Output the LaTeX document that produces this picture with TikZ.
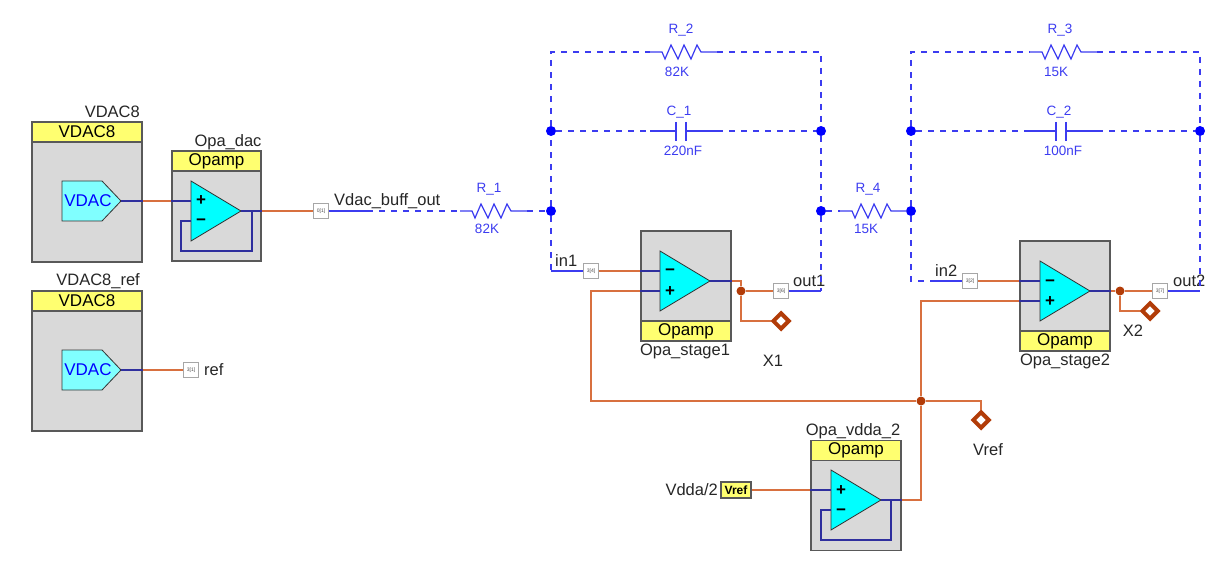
\documentclass[tikz,border=0pt]{standalone}
\usepackage{fontspec}
\setmainfont{Liberation Sans}
\usetikzlibrary{shapes.geometric}
\definecolor{wirered}{HTML}{D8703F}
\definecolor{wireblue}{HTML}{2F2F9E}
\definecolor{netblue}{HTML}{3C3CF0}
\definecolor{headyellow}{HTML}{FFFF70}
\definecolor{blockgray}{HTML}{D9D9D9}
\definecolor{probecol}{HTML}{B23C08}
\definecolor{opacyan}{HTML}{00FFFF}
\definecolor{dacyan}{HTML}{80FFFF}
\tikzstyle{block}=[rectangle, draw=black!65, line width=1.1pt, fill=blockgray, inner sep=0pt, minimum width=110pt]
\tikzstyle{opablock}=[block, minimum width=90pt, minimum height=110pt]
\tikzstyle{vdacblock}=[block, minimum height=140pt]
\tikzstyle{head}=[rectangle, draw=black!65, line width=1.1pt, fill=headyellow, inner sep=0pt, minimum height=20pt, font=\fontsize{17}{19}\selectfont]
\tikzstyle{pintag}=[rectangle, draw=black!35, line width=1pt, fill=white, inner sep=0pt, minimum size=15pt, text=black!70, font=\fontsize{5}{5}\selectfont]
\tikzstyle{lbl}=[inner sep=0pt, text=black!85, font=\fontsize{16.5}{19}\selectfont]
\tikzstyle{val}=[inner sep=0pt, text=netblue, font=\fontsize{13.5}{15}\selectfont]
\tikzstyle{opsign}=[inner sep=0pt, text height=10pt, text depth=0pt, font=\fontsize{17}{17}\selectfont\bfseries]
\tikzstyle{bdot}=[circle, fill=blue, inner sep=0pt, minimum size=10pt]
\tikzstyle{rdot}=[circle, fill=probecol, inner sep=0pt, minimum size=9pt]
\tikzstyle{probe}=[diamond, draw=probecol, line width=4pt, fill=white, inner sep=0pt, minimum size=17pt]
\tikzstyle{wred}=[draw=wirered, line width=1.2pt]
\tikzstyle{wnavy}=[draw=wireblue, line width=1.2pt]
\tikzstyle{wnet}=[draw=netblue, line width=1.2pt]
\tikzstyle{dsh}=[wnet, dash pattern=on 6pt off 6pt]
\newcommand{\opasym}[5]{
\draw[black!80, fill=opacyan, line width=.8pt] (#2,#3-30)--(#2+50,#3)--(#2,#3+30)--cycle;
\coordinate (#1top) at (#2,#3-10);
\coordinate (#1bot) at (#2,#3+10);
\coordinate (#1out) at (#2+50,#3);
\node[opsign] at (#2+10,#3-10){#4};
\node[opsign] at (#2+10,#3+10){#5};
}
\newcommand{\vdacsym}[3]{
\draw[black!80, fill=dacyan, line width=.8pt] (#2,#3-20)--(#2+40,#3-20)--(#2+59,#3)--(#2+40,#3+20)--(#2,#3+20)--cycle;
\coordinate (#1out) at (#2+59,#3);
\node[text=blue, inner sep=0pt, font=\fontsize{17}{19}\selectfont] at (#2+26,#3){VDAC};
}
\newcommand{\resist}[3]{
\coordinate (#1l) at (#2-12,#3);
\coordinate (#1r) at (#2+55,#3);
\draw[wnet] (#1l)--(#2,#3)--++(3,7)--++(6,-14)--++(7,14)--++(6,-14)--++(7,14)--++(6,-14)--++(4,7)--(#1r);
}
\newcommand{\capac}[3]{
\coordinate (#1l) at (#2-26,#3);
\coordinate (#1r) at (#2+41,#3);
\draw[wnet] (#1l)--(#2,#3)(#2,#3-9)--(#2,#3+10)(#2+10,#3-9)--(#2+10,#3+10)(#2+10,#3)--(#1r);
}
\begin{document}
\begin{tikzpicture}[x=1pt,y=-1pt]
\useasboundingbox (0,0) rectangle (1228,577);
% components on the left
\node[vdacblock] (dac) at (87,192){};
\node[head, minimum width=110pt] (dachead) at (87,132){VDAC8};
\node[lbl, anchor=east] (dacname) at (140,112){VDAC8};
\vdacsym{dacs}{62}{201}
\node[vdacblock] (ref) at (87,361){};
\node[head, minimum width=110pt] (refhead) at (87,301){VDAC8};
\node[lbl, anchor=east] (refname) at (140,281){VDAC8\_ref};
\vdacsym{refs}{62}{370}
\node[block, minimum width=89pt, minimum height=110pt] (opd) at (216.5,206){};
\node[head, minimum width=89pt] (opdhead) at (216.5,161){Opamp};
\node[lbl] (opdname) at (228,142){Opa\_dac};
\opasym{opds}{191}{211}{+}{−}
% stage 1
\node[opablock] (st1) at (686,286){};
\node[head, minimum width=90pt] (st1head) at (686,331){Opamp};
\node[lbl] (st1name) at (685,351){Opa\_stage1};
\opasym{st1s}{660}{281}{−}{+}
% stage 2
\node[opablock] (st2) at (1065,296){};
\node[head, minimum width=90pt] (st2head) at (1065,341){Opamp};
\node[lbl] (st2name) at (1065,361){Opa\_stage2};
\opasym{st2s}{1040}{291}{−}{+}
% vdda buffer
\node[opablock] (opv) at (856,495.5){};
\node[head, minimum width=90pt] (opvhead) at (856,450.5){Opamp};
\node[lbl] (opvname) at (853,431){Opa\_vdda\_2};
\opasym{opvs}{831}{500}{+}{−}
% tags
\node[pintag] (tdac) at (321,211){0[1]};
\node[pintag] (tref) at (191,370){3[1]};
\node[pintag] (tin1) at (591,271){3[4]};
\node[pintag] (tout1) at (781,291){3[6]};
\node[pintag] (tin2) at (970,281){3[2]};
\node[pintag] (tout2) at (1160,291){3[7]};
\node[head, minimum width=30pt, minimum height=16pt, font=\fontsize{12}{13}\selectfont\bfseries] (vrefpin) at (736,490){Vref};
\node[lbl, anchor=east] (vddaname) at (718,490){Vdda/2};
\node[lbl, anchor=west] (refnet) at (204,370){ref};
\node[lbl, anchor=west] (dacnet) at (334,201){Vdac\_buff\_out};
\node[lbl, anchor=west] (in1net) at (555,261){in1};
\node[lbl, anchor=west] (out1net) at (793,281){out1};
\node[lbl, anchor=west] (in2net) at (935,271){in2};
\node[lbl, anchor=west] (out2net) at (1173,281){out2};
% junctions
\node[bdot] (a1) at (551,131){};
\node[bdot] (b1) at (821,131){};
\node[bdot] (a2) at (911,131){};
\node[bdot] (b2) at (1200,131){};
\node[bdot] (m1) at (551,211){};
\node[bdot] (m2) at (821,211){};
\node[bdot] (m3) at (911,211){};
\node[rdot] (j1) at (741,291){};
\node[rdot] (j2) at (1120,291){};
\node[rdot] (j3) at (921,401){};
\node[probe] (x1) at (781,321){};
\node[probe] (x2) at (1150,311){};
\node[probe] (vr) at (981,420){};
\node[lbl] (x1name) at (773,361){X1};
\node[lbl] (x2name) at (1133,331){X2};
\node[lbl] (vrname) at (988,450){Vref};
% passives
\resist{r1}{472}{211}
\resist{r2}{662}{52}
\resist{r3}{1042}{52}
\resist{r4}{852}{211}
\capac{c1}{676}{131}
\capac{c2}{1056}{131}
\node[val] (r1n) at (489,189){R\_1};
\node[val] (r1v) at (487,229){82K};
\node[val] (r2n) at (681,30){R\_2};
\node[val] (r2v) at (677,72){82K};
\node[val] (r3n) at (1060,30){R\_3};
\node[val] (r3v) at (1056,72){15K};
\node[val] (r4n) at (868,189){R\_4};
\node[val] (r4v) at (866,229){15K};
\node[val] (c1n) at (679,112){C\_1};
\node[val] (c1v) at (683,151){220nF};
\node[val] (c2n) at (1059,112){C\_2};
\node[val] (c2v) at (1063,151){100nF};
% dashed nets
\coordinate (n1) at (367,211);
\coordinate (n2) at (930,281);
\coordinate (o1) at (821,291);
\coordinate (o2) at (1200,291);
\coordinate (i1) at (551,271);
\draw[dsh] (m1)--(a1)--(551,52)--(r2l);
\draw[dsh] (r2r)--(821,52)--(b1)--(m2)--(r4l);
\draw[dsh] (a1)--(c1l)(c1r)--(b1);
\draw[dsh] (m3)--(a2)--(911,52)--(r3l);
\draw[dsh] (r3r)--(1200,52)--(b2)--(o2);
\draw[dsh] (a2)--(c2l)(c2r)--(b2);
\draw[dsh] (n1)--(r1l)(r1r)--(m1);
\draw[dsh] (m1)--(i1);
\draw[dsh] (m2)--(o1);
\draw[dsh] (m3)--(911,281)--(n2);
\draw[wnet] (r4r)--(m3);
\draw[wnet] (tdac)--(n1);
\draw[wnet] (i1)--(tin1);
\draw[wnet] (n2)--(tin2);
\draw[wnet] (tout1)--(o1);
\draw[wnet] (tout2)--(o2);
% left wires
\draw[wnavy] (dacsout)--(dac.east|-dacsout);
\draw[wred] (dac.east|-dacsout)--(opd.west|-dacsout);
\draw[wnavy] (opd.west|-dacsout)--(opdstop);
\draw[wnavy] (refsout)--(ref.east|-refsout);
\draw[wred] (ref.east|-refsout)--(tref);
\draw[wnavy] (opdsout)--(opd.east|-opdsout);
\draw[wred] (opd.east|-opdsout)--(tdac);
\draw[wnavy] (opdsbot)--(181,221)--(181,251)--(252,251)--(252,211);
% stage 1 wires
\draw[wred] (tin1)--(st1.west|-tin1);
\draw[wnavy] (st1.west|-tin1)--(st1stop);
\draw[wnavy] (st1.west|-st1sbot)--(st1sbot);
\draw[wnavy] (st1sout)--(st1.east|-st1sout);
\draw[wred] (st1.east|-st1sout)--(741,281)--(j1)--(tout1);
\draw[wred] (j1)--(741,321)--(x1);
% stage 2 wires
\draw[wred] (tin2)--(st2.west|-tin2);
\draw[wnavy] (st2.west|-tin2)--(st2stop);
\draw[wnavy] (st2.west|-st2sbot)--(st2sbot);
\draw[wnavy] (st2sout)--(st2.east|-st2sout);
\draw[wred] (st2.east|-st2sout)--(j2)--(tout2);
\draw[wred] (j2)--(1120,311)--(x2);
% reference net
\draw[wred] (st1.west|-st1sbot)--(591,291)--(591,401)--(j3)--(981,401)--(vr);
\draw[wred] (st2.west|-st2sbot)--(921,301)--(j3);
\draw[wred] (vrefpin)--(opv.west|-vrefpin);
\draw[wnavy] (opv.west|-vrefpin)--(opvstop);
\draw[wnavy] (opvsout)--(opv.east|-opvsout);
\draw[wred] (opv.east|-opvsout)--(921,500)--(j3);
\draw[wnavy] (opvsbot)--(821,510)--(821,540)--(891,540)--(891,500);
\end{tikzpicture}
\end{document}
